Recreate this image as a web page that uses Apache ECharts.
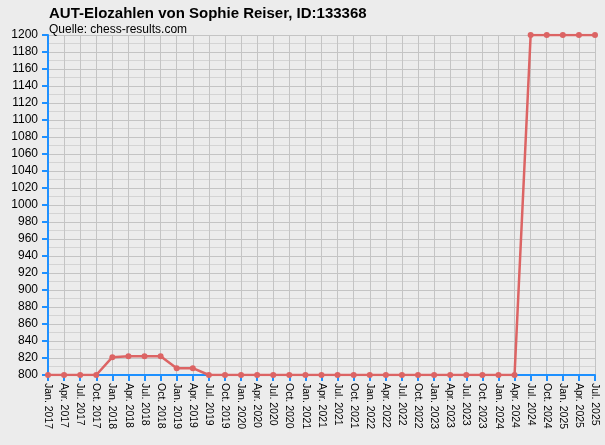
<!DOCTYPE html>
<html><head><meta charset="utf-8">
<script src="https://cdn.jsdelivr.net/npm/echarts@6/dist/echarts.min.js"></script>
<style>html,body{margin:0;padding:0;background:#ececec}#c{width:605px;height:445px}</style>
</head><body><div id="c"></div>
<script>
const years=[2017,2018,2019,2020,2021,2022,2023,2024,2025];
const quarters=['Jan.','Apr.','Jul.','Oct.'];
const categories=[];
years.forEach(y=>quarters.forEach(q=>{ if(!(y===2025&&q==='Oct.')) categories.push(q+' '+y); }));
const elo=[800,800,800,800, 821,822,822,822, 808,808,800,800,
 800,800,800,800, 800,800,800,800, 800,800,800,800, 800,800,800,800,
 800,800,1200,1200, 1200,1200,1200];
const chart=echarts.init(document.getElementById('c'));
const blue='#1e90ff';
chart.setOption({
 backgroundColor:'#ececec',
 title:{text:'AUT-Elozahlen von Sophie Reiser, ID:133368',subtext:'Quelle: chess-results.com',left:44,top:1,itemGap:3,
  textStyle:{fontFamily:'Liberation Sans',fontSize:15,fontWeight:'bold',color:'#000'},
  subtextStyle:{fontFamily:'Liberation Sans',fontSize:12,color:'#000'}},
 grid:{left:48,right:10,top:35,bottom:70,containLabel:false},
 xAxis:{type:'category',data:categories,boundaryGap:false,
  axisLine:{lineStyle:{color:blue,width:2}},
  axisTick:{alignWithLabel:true,length:6,lineStyle:{color:blue,width:2}},
  axisLabel:{rotate:-90,interval:0,color:'#000',fontFamily:'Liberation Sans',fontSize:10.5},
  splitLine:{show:true,lineStyle:{color:'#c4c4c4'}}},
 yAxis:{type:'value',min:800,max:1200,interval:20,
  axisLine:{show:true,lineStyle:{color:blue,width:2}},
  axisTick:{show:true,length:6,lineStyle:{color:blue,width:2}},
  axisLabel:{color:'#000',fontFamily:'Liberation Sans',fontSize:12,margin:10,formatter:v=>String(v)},
  splitLine:{lineStyle:{color:'#c4c4c4'}},
  minorTick:{show:false,splitNumber:2},
  minorSplitLine:{show:true,lineStyle:{color:'#d4d4d4'}}},
 series:[{type:'line',data:elo,symbol:'circle',symbolSize:6,
  itemStyle:{color:'#dc6464'},lineStyle:{color:'#dc6464',width:2.5},animation:false}]
});
</script></body></html>
